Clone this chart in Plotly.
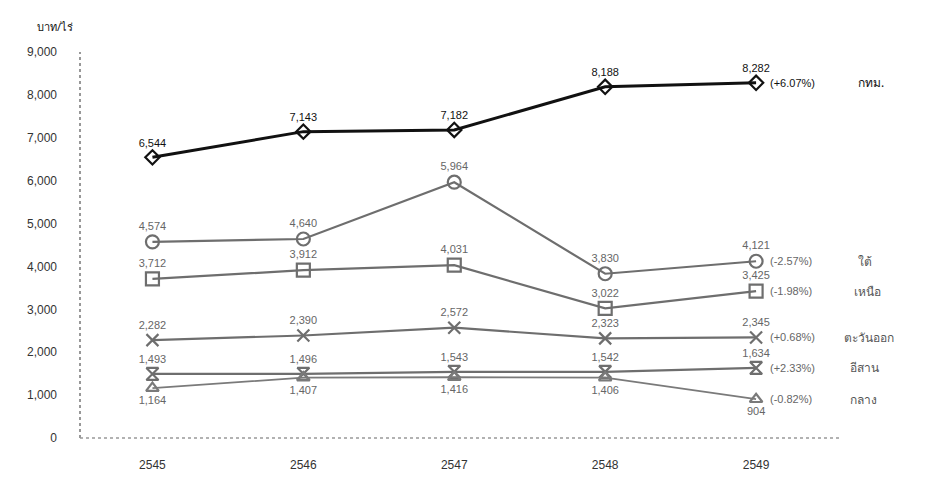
import plotly.graph_objects as go

years = ["2545", "2546", "2547", "2548", "2549"]
bangkok = [6544, 7143, 7182, 8188, 8282]
south = [4574, 4640, 5964, 3830, 4121]
north = [3712, 3912, 4031, 3022, 3425]
east = [2282, 2390, 2572, 2323, 2345]
northeast = [1493, 1496, 1543, 1542, 1634]
central = [1164, 1407, 1416, 1406, 904]

names = ["กทม.", "ใต้", "เหนือ", "ตะวันออก", "อีสาน", "กลาง"]
growth = ["(+6.07%)", "(-2.57%)", "(-1.98%)", "(+0.68%)", "(+2.33%)", "(-0.82%)"]
y_ticks = [0, 1000, 2000, 3000, 4000, 5000, 6000, 7000, 8000, 9000]

series = [bangkok, south, north, east, northeast, central]
symbols = ["diamond-open", "circle-open", "square-open", "x-thin-open", "hourglass-open", "triangle-up-open"]
colors = ["#111111", "#6e6e6e", "#6e6e6e", "#6e6e6e", "#6e6e6e", "#7a7a7a"]
widths = [3, 2.2, 2.2, 2.2, 2.2, 1.8]
msize = [11, 13, 13, 12, 12, 11]
textpos = ["top center"] * 5 + ["bottom center"]
xs = list(range(len(years)))

FONT = "Liberation Sans, Arial, sans-serif"
THAI = "Noto Sans, DejaVu Sans, sans-serif"

fig = go.Figure()
for i, s in enumerate(series):
    fig.add_trace(go.Scatter(
        x=xs, y=s, mode="lines+markers+text",
        line=dict(color=colors[i], width=widths[i]),
        marker=dict(symbol=symbols[i], size=msize[i], color=colors[i],
                    line=dict(width=2.2, color=colors[i])),
        text=[f"{v:,}" for v in s], textposition=textpos[i],
        textfont=dict(family=FONT, size=11, color="#111" if i == 0 else "#666"),
        showlegend=False, cliponaxis=False,
    ))

# right-side growth and region labels
name_dx = [100, 100, 96, 86, 92, 92]
for i, s in enumerate(series):
    col = "#111" if i == 0 else "#666"
    fig.add_annotation(x=xs[-1], y=s[-1], xref="x", yref="y", text=growth[i],
                       showarrow=False, xanchor="left", xshift=12,
                       font=dict(family=FONT, size=11, color=col))
    fig.add_annotation(x=xs[-1], y=s[-1], xref="x", yref="y", text=names[i],
                       showarrow=False, xanchor="left", xshift=name_dx[i],
                       font=dict(family=THAI, size=12, color="#111" if i == 0 else "#555"))

fig.add_annotation(x=-0.054, y=1, xref="paper", yref="paper", text="บาท/ไร่", showarrow=False,
                   xanchor="left", yanchor="bottom", yshift=16,
                   font=dict(family=THAI, size=11, color="#111"))

# dotted axis lines
fig.add_shape(type="line", xref="paper", yref="paper", x0=0, x1=0, y0=0, y1=1,
              line=dict(color="#777", width=1.5, dash="dot"))
fig.add_shape(type="line", xref="paper", yref="paper", x0=0, x1=0.92, y0=0, y1=0,
              line=dict(color="#999", width=1.5, dash="dot"))

fig.update_layout(
    width=929, height=492,
    margin=dict(l=80, r=22, t=52, b=54),
    paper_bgcolor="white", plot_bgcolor="white",
    xaxis=dict(range=[-0.48, 5.0], tickmode="array", tickvals=xs, ticktext=years,
               showgrid=False, zeroline=False, showline=False, ticks="",
               tickfont=dict(family="Liberation Sans Narrow, Liberation Sans, Arial", size=12, color="#333"),
               ticklabelstandoff=18),
    yaxis=dict(range=[0, 9000], tickvals=y_ticks, tickformat=",", showgrid=False,
               zeroline=False, showline=False, ticks="",
               tickfont=dict(family="Liberation Sans Narrow, Liberation Sans, Arial", size=12, color="#333"),
               ticklabelstandoff=22),
)

fig.write_html("out.html")
